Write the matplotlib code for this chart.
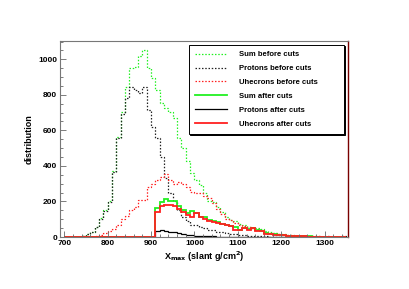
import numpy as np
import matplotlib
matplotlib.use("Agg")
import matplotlib.pyplot as plt

# bins of 10 g/cm2, left edges 700 ... 1340
bin_edges = np.arange(700, 1350, 10)

sum_before = [0, 0, 0, 0, 5, 15, 30, 55, 105, 150,
              200, 370, 560, 705, 846, 950, 955, 1020, 1050, 950,
              895, 830, 755, 725, 703, 670, 557, 500, 430, 360,
              320, 293, 250, 200, 195, 170, 140, 110, 96, 90,
              73, 65, 56, 50, 50, 45, 32, 28, 25, 18,
              15, 12, 10, 8, 6, 5, 4, 3, 3, 2,
              2, 1, 1, 0, 0]
protons_before = [0, 0, 0, 0, 5, 15, 30, 55, 100, 145,
                  195, 365, 555, 690, 782, 846, 827, 810, 846, 714,
                  620, 557, 450, 330, 248, 200, 150, 110, 90, 70,
                  65, 55, 50, 42, 38, 30, 26, 20, 18, 15,
                  12, 10, 8, 6, 5, 4, 3, 2, 2, 1,
                  0, 0, 0, 0, 3, 0, 0, 0, 0, 0,
                  5, 0, 0, 0, 3]
uhecrons_before = [0, 0, 0, 0, 0, 0, 0, 5, 12, 22,
                   32, 45, 70, 100, 120, 150, 170, 208, 208, 283,
                   300, 320, 340, 355, 320, 300, 310, 300, 280, 255,
                   245, 245, 230, 220, 190, 160, 130, 100, 95, 80,
                   70, 60, 55, 50, 45, 40, 30, 25, 22, 17,
                   14, 12, 10, 8, 6, 5, 4, 3, 3, 2,
                   2, 1, 1, 0, 0]
sum_after = [0] * 21 + [163, 199, 214, 203, 203, 175, 152, 135, 145,
                        135, 115, 115, 95, 90, 85, 75, 70, 60, 55,
                        40, 50, 45, 50, 40, 35, 20, 18, 15, 12,
                        10, 8, 6, 5, 4, 3, 3, 2, 2, 1,
                        1, 0, 0, 0, 0]
protons_after = [0] * 21 + [36, 40, 35, 30, 28, 22, 18, 14, 10,
                            8, 7, 5, 4, 3, 2, 2, 1, 0, 0,
                            0, 0, 0, 0, 0, 0, 0, 0, 0, 0,
                            0, 0, 0, 0, 0, 0, 0, 0, 0, 0,
                            0, 0, 0, 0, 0]
uhecrons_after = [0] * 21 + [140, 172, 182, 180, 175, 160, 142, 125, 110,
                             135, 115, 100, 90, 85, 80, 72, 68, 60, 40,
                             38, 48, 40, 48, 36, 32, 18, 16, 13, 10,
                             9, 7, 5, 4, 3, 3, 2, 2, 1, 1,
                             0, 0, 0, 0, 0]

labels = ["Sum before cuts", "Protons before cuts", "Uhecrons before cuts",
          "Sum after cuts", "Protons after cuts", "Uhecrons after cuts"]

edges = np.append(bin_edges, bin_edges[-1] + 10)
green = "#22f022"
red = "#ff2020"
dots = (0, (1.2, 1.4))

plt.rcParams['font.family'] = ['Liberation Sans', 'DejaVu Sans']
plt.rcParams['font.weight'] = 'bold'

fig = plt.figure(figsize=(4.1, 2.89), dpi=100)
ax = fig.add_axes([60 / 410, 52 / 289, 288 / 410, 196 / 289])

series = [
    (sum_before, green, dots, 0.9),
    (protons_before, "#222222", dots, 0.9),
    (uhecrons_before, red, dots, 0.9),
    (sum_after, green, "-", 1.3),
    (protons_after, "black", "-", 0.9),
    (uhecrons_after, red, "-", 1.3),
]
for (vals, col, ls, lw), lab in zip(series, labels):
    ax.stairs(vals, edges, color=col, linestyle=ls, linewidth=lw, label=lab)

ax.set_xlim(690, 1354)
ax.set_ylim(0, 1103)
ax.set_xticks(np.arange(700, 1301, 100))
ax.set_xticks(np.arange(700, 1354, 20), minor=True)
ax.set_yticks(np.arange(0, 1001, 200))
ax.set_yticks(np.arange(0, 1101, 50), minor=True)
ax.tick_params(which='both', direction='in', top=False, right=False,
               labelsize=6, color='#666666', width=0.6, pad=2)
ax.tick_params(which='major', length=4.5)
ax.tick_params(which='minor', length=2.2)
for lab in ax.get_xticklabels() + ax.get_yticklabels():
    lab.set_fontweight('bold')

for side in ['left', 'top', 'bottom']:
    ax.spines[side].set_color('#777777')
    ax.spines[side].set_linewidth(0.8)
ax.spines['right'].set_color('#7a0000')
ax.spines['right'].set_linewidth(1.0)

ax.set_xlabel("X$_{\\mathbf{max}}$ (slant g/cm$^{\\mathbf{2}}$)", fontsize=6.5,
              fontweight='bold', labelpad=2)
ax.set_ylabel("distribution", fontsize=6.5, fontweight='bold', labelpad=3)

leg = ax.legend(loc='upper left', bbox_to_anchor=(0.448, 0.52, 0.538, 0.46),
                mode='expand', borderaxespad=0, fontsize=5.5, frameon=True,
                fancybox=False, edgecolor='black', framealpha=1,
                shadow={'color': 'black', 'alpha': 1, 'ox': 1, 'oy': -1},
                handlelength=4.2, handletextpad=1.5, labelspacing=0.85,
                borderpad=0.8)
leg.get_frame().set_linewidth(0.7)
for t in leg.get_texts():
    t.set_fontweight('bold')

fig.savefig("out.png", dpi=100)
